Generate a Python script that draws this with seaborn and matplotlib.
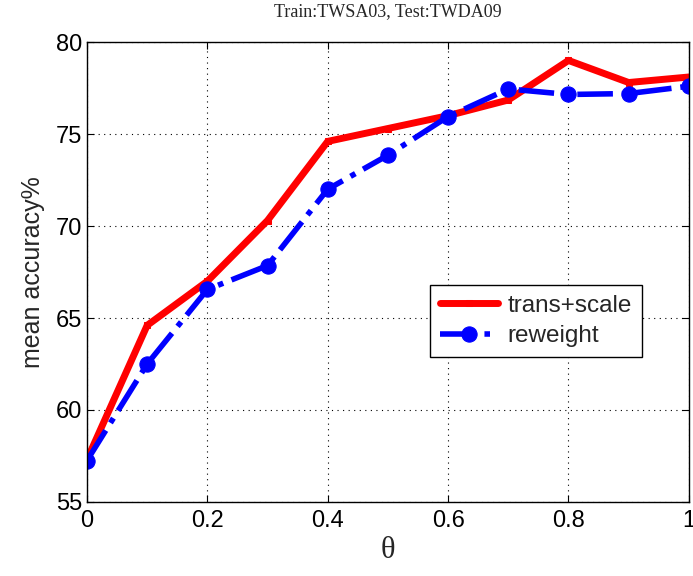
import matplotlib
matplotlib.use("Agg")
import matplotlib.pyplot as plt
import seaborn as sns
import pandas as pd

theta = [0.0, 0.1, 0.2, 0.3, 0.4, 0.5, 0.6, 0.7, 0.8, 0.9, 1.0]
trans_scale = [57.3, 64.6, 67.0, 70.3, 74.6, 75.3, 76.0, 76.85, 79.0, 77.8, 78.1]
reweight = [57.25, 62.5, 66.55, 67.85, 72.0, 73.85, 75.95, 77.45, 77.15, 77.2, 77.6]
series_names = ["trans+scale", "reweight"]
x_ticks = [0, 0.2, 0.4, 0.6, 0.8, 1.0]
x_ticklabels = ["0", "0.2", "0.4", "0.6", "0.8", "1"]
y_ticks = [55, 60, 65, 70, 75, 80]

sns.set_style("white")
plt.rcParams['font.family'] = ['Liberation Sans', 'DejaVu Sans']

df = pd.DataFrame({"theta": theta * 2,
                   "acc": trans_scale + reweight,
                   "method": [series_names[0]] * len(theta) + [series_names[1]] * len(theta)})

fig = plt.figure(figsize=(6.93, 5.76), dpi=100)
ax = fig.add_axes([0.1255, 0.1285, 0.994 - 0.1255, 0.927 - 0.1285])

sns.lineplot(data=df[df.method == series_names[0]], x="theta", y="acc", ax=ax,
             color="#ff0000", linewidth=5, marker="s", markersize=4,
             markeredgecolor="#ff0000", label=series_names[0])
sns.lineplot(data=df[df.method == series_names[1]], x="theta", y="acc", ax=ax,
             color="#0000ff", linewidth=4, linestyle="-.", marker="o", markersize=11,
             markeredgecolor="#0000ff", label=series_names[1])

ax.set_xlim(0, 1)
ax.set_ylim(55, 80)
ax.set_xticks(x_ticks)
ax.set_xticklabels(x_ticklabels)
ax.set_yticks(y_ticks)
ax.tick_params(direction="in", length=5, width=0.8, labelsize=17, top=True, right=True,
               bottom=True, left=True, colors="black")
ax.tick_params(axis="x", pad=6)
ax.grid(True, linestyle=(0, (1, 4)), color="black", linewidth=0.8)
for s in ax.spines.values():
    s.set_color("black")
    s.set_linewidth(1.0)

ax.set_xlabel("θ", fontsize=22, labelpad=3, family=["Liberation Serif", "DejaVu Serif"])
ax.set_ylabel("mean accuracy%", fontsize=18, labelpad=8)
ax.set_title("Train:TWSA03, Test:TWDA09", fontsize=13, family=["Liberation Serif", "DejaVu Serif"], pad=19)

leg = ax.legend(loc="upper left", bbox_to_anchor=(0.57, 0.472), fontsize=17.5, frameon=True,
                fancybox=False, edgecolor="black", framealpha=1, handlelength=2.4,
                borderpad=0.4, labelspacing=0.35, handletextpad=0.4, borderaxespad=0)
leg.get_frame().set_linewidth(1.0)

fig.savefig("out.png", dpi=100)
